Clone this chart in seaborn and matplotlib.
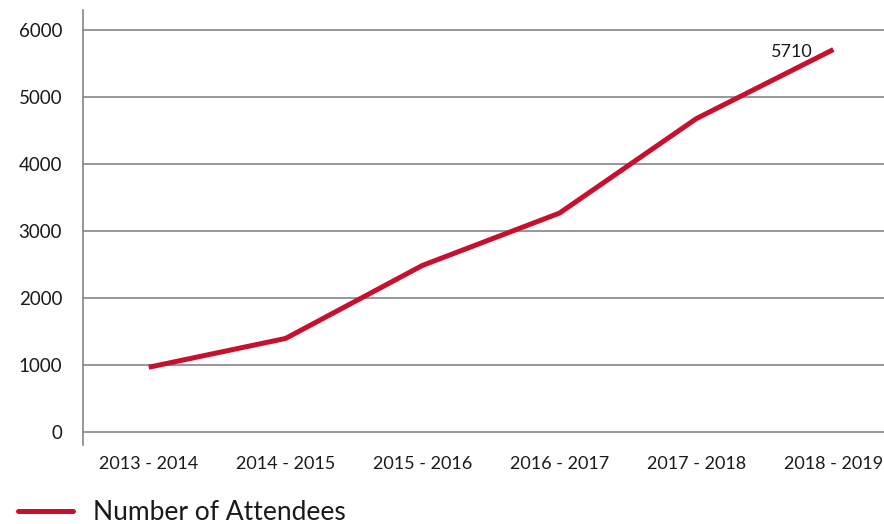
import matplotlib
matplotlib.use("Agg")
import matplotlib.pyplot as plt
import seaborn as sns
import pandas as pd
from matplotlib.lines import Line2D

seasons = ["2013 - 2014", "2014 - 2015", "2015 - 2016", "2016 - 2017", "2017 - 2018", "2018 - 2019"]
attendees = [970, 1400, 2490, 3270, 4680, 5710]
y_ticks = [0, 1000, 2000, 3000, 4000, 5000, 6000]
series_name = "Number of Attendees"

sns.set_style("white")
plt.rcParams["font.family"] = ["Lato", "DejaVu Sans"]

df = pd.DataFrame({"season": seasons, "value": attendees, "series": series_name})
df["pos"] = range(len(seasons))

fig = plt.figure(figsize=(8.84, 5.24), dpi=100)
ax = fig.add_axes([83/884, 1 - 445/524, 1 - 83/884, (445 - 10)/524])

red = "#C8102E"
grid_c = "#7a7a7a"
text_c = "#1a1a1a"
sns.lineplot(data=df, x="pos", y="value", hue="series", palette=[red],
             linewidth=3.6, ax=ax, legend=False, solid_capstyle="butt")

ax.set_xlim(-0.48, 5.37)
ax.set_ylim(-190, 6300)
ax.set_yticks(y_ticks)
ax.set_yticklabels([str(v) for v in y_ticks], fontsize=13.5, color=text_c)
ax.set_xticks(range(len(seasons)))
ax.set_xticklabels(seasons, fontsize=13, color=text_c)
ax.tick_params(axis="x", length=0, pad=8)
ax.tick_params(axis="y", length=6, width=1.1, color=grid_c, pad=9)
ax.yaxis.grid(True, color=grid_c, linewidth=1.1)
ax.set_axisbelow(True)
for s in ["top", "right", "bottom"]:
    ax.spines[s].set_visible(False)
ax.spines["left"].set_color(grid_c)
ax.spines["left"].set_linewidth(1.1)
ax.set_xlabel("")
ax.set_ylabel("")

ax.annotate(str(attendees[-1]), xy=(5, attendees[-1]), xytext=(-15, -2),
            textcoords="offset points", ha="right", va="center", fontsize=13, color=text_c)

handle = Line2D([], [], color=red, linewidth=3.6)
fig.legend([handle], [series_name], loc="center left", bbox_to_anchor=(18/884, 0.022),
           frameon=False, fontsize=19, handlelength=2.08, handletextpad=0.76, borderpad=0,
           borderaxespad=0, labelcolor=text_c)

fig.savefig("out.png", dpi=100)
